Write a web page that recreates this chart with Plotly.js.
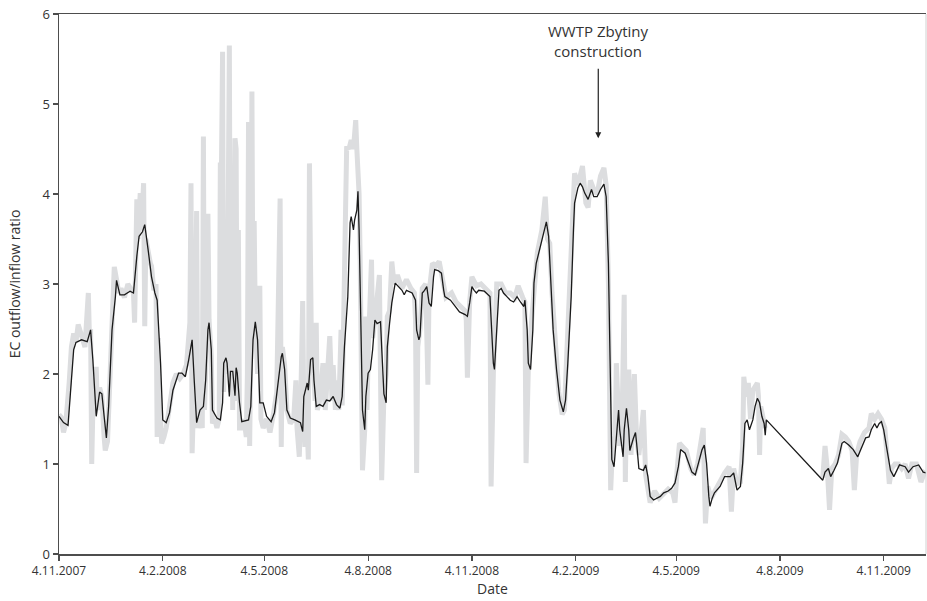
<!DOCTYPE html>
<html><head><meta charset="utf-8">
<script src="https://cdn.plot.ly/plotly-3.0.1.min.js"></script>
<style>html,body{margin:0;padding:0;background:#fff}#chart{width:927px;height:601px}</style>
</head><body><div id="chart"></div>
<script>
// Day offsets counted from 4.11.2007
const startDate = '2007-11-04';

// Moving average (black line)
const avgDay = [
0,4,8,10,13,15,20,25,28,30,
32,33,36,38,40,42,44,47,50,51,
54,58,63,66,69,71,74,76,79,82,
85,87,90,92,95,98,101,106,109,112,
115,118,120,122,125,128,130,132,133,135,
136,140,143,145,146,148,149,151,152,154,
156,157,158,160,162,168,170,172,174,176,
178,181,184,188,191,194,197,198,200,202,
205,209,214,216,217,220,221,223,225,226,
228,231,234,237,240,243,246,249,251,253,
256,258,259,261,262,264,265,266,268,269,
271,272,274,276,278,280,282,285,286,288,
290,291,293,295,298,301,304,306,308,313,
316,317,319,320,322,324,326,328,330,332,
333,336,339,341,342,347,351,355,360,362,
364,366,368,370,372,377,382,383,385,386,
388,390,392,394,397,400,403,406,409,412,
413,415,416,418,420,421,423,426,429,432,
434,436,438,441,444,447,449,451,454,456,
457,460,462,464,466,469,472,474,477,480,
483,485,487,488,489,490,492,496,497,500,
501,503,505,506,509,511,512,514,518,520,
522,524,527,530,533,536,540,543,546,549,
551,555,558,561,564,567,570,572,574,576,
577,579,581,586,590,595,598,601,604,606,
608,610,612,615,617,619,621,623,625,626,
627,677,679,682,684,687,690,694,696,700,
704,708,712,715,718,720,723,725,727,729,
731,734,737,740,743,745,750,753,757,762,
766,769];
const avgVal = [
1.53,1.46,1.43,1.75,2.27,2.35,2.38,2.36,2.49,2.16,
1.68,1.53,1.80,1.78,1.53,1.29,1.64,2.49,2.86,3.04,
2.88,2.88,2.92,2.90,3.31,3.53,3.58,3.66,3.38,3.08,
2.90,2.82,2.12,1.49,1.46,1.57,1.82,2.01,2.01,1.97,
2.16,2.38,1.90,1.46,1.60,1.64,1.93,2.49,2.57,2.27,
1.60,1.51,1.49,1.68,2.12,2.18,2.12,1.75,2.03,2.03,
1.76,2.07,2.01,1.68,1.47,1.49,1.64,2.38,2.58,2.38,
1.68,1.68,1.53,1.47,1.57,1.90,2.19,2.23,2.05,1.60,
1.51,1.49,1.46,1.36,1.75,1.90,1.82,2.16,2.18,1.93,
1.64,1.66,1.64,1.71,1.70,1.75,1.66,1.62,1.75,2.30,
2.86,3.68,3.75,3.60,3.71,3.82,4.03,3.60,2.49,1.60,
1.38,1.75,2.01,2.05,2.27,2.60,2.56,2.58,2.30,1.78,
1.68,2.30,2.56,2.79,3.01,2.97,2.93,2.88,2.93,2.90,
2.82,2.49,2.38,2.42,2.90,2.93,2.97,2.79,2.75,3.08,
3.16,3.15,3.12,2.93,2.86,2.82,2.75,2.69,2.66,2.64,
2.79,2.97,2.93,2.90,2.93,2.92,2.86,2.56,2.12,2.05,
2.56,2.93,2.95,2.90,2.86,2.82,2.80,2.86,2.80,2.75,
2.82,2.49,2.12,2.05,2.49,3.01,3.23,3.38,3.53,3.69,
3.53,3.01,2.49,2.05,1.71,1.58,1.71,2.12,2.86,3.60,
3.90,4.07,4.12,4.08,4.01,3.94,4.05,3.97,3.97,4.05,
4.11,3.97,3.23,2.49,1.75,1.05,0.97,1.60,1.38,1.08,
1.38,1.62,1.38,1.15,1.28,1.35,1.23,0.95,0.93,0.99,
0.86,0.64,0.60,0.62,0.64,0.68,0.70,0.73,0.79,0.97,
1.16,1.12,1.01,0.91,0.88,1.01,1.16,1.21,1.01,0.64,
0.53,0.62,0.68,0.75,0.86,0.86,0.90,0.71,0.75,1.01,
1.45,1.49,1.38,1.49,1.64,1.73,1.68,1.53,1.45,1.32,
1.49,0.82,0.91,0.95,0.86,0.93,1.01,1.23,1.25,1.21,
1.16,1.08,1.19,1.29,1.30,1.38,1.45,1.40,1.45,1.47,
1.38,1.16,0.93,0.86,0.93,0.99,0.97,0.91,0.97,0.99,
0.91,0.90];

// Daily values (grey line); null marks the data gap
const dailyDay = [
0,2,4,6,9,11,13,15,17,20,
23,26,27,28,29,30,31,33,34,36,
38,40,41,43,45,47,49,51,53,55,
58,61,64,66,67,68,69,70,72,73,
75,76,77,81,82,84,86,87,88,89,
91,93,95,98,101,104,107,110,113,116,
117,118,120,122,123,125,127,128,129,130,
132,133,135,136,138,140,142,143,144,145,
146,148,149,151,152,153,154,156,157,158,
159,160,162,164,166,167,168,169,170,171,
172,173,174,176,178,179,181,184,187,190,
193,196,197,198,200,202,205,208,210,211,
213,214,216,217,218,219,221,222,223,224,
225,227,228,229,231,234,236,240,242,243,
245,246,248,250,251,253,255,257,259,261,
263,264,266,267,268,269,271,272,273,274,
277,278,280,284,286,288,290,291,293,295,
297,300,304,308,312,315,316,317,318,320,
322,325,327,328,331,334,337,340,343,348,
352,356,360,361,362,364,366,370,374,378,
382,383,385,388,392,396,400,404,407,411,
413,414,416,419,421,424,428,431,433,435,
437,440,443,446,448,450,453,456,457,460,
464,467,469,471,474,477,480,483,485,487,
488,489,491,493,494,496,497,499,501,502,
503,505,507,510,512,514,518,520,524,528,
532,536,540,544,546,548,550,553,556,560,
563,566,569,571,573,575,578,582,586,590,
594,596,598,601,604,606,607,609,611,613,
615,617,619,620,621,622,624,626,650,677,
679,681,683,685,688,691,694,697,700,703,
705,707,710,714,718,720,723,726,729,732,
734,736,738,741,744,747,750,753,756,760,
764,767,769];
const dailyVal = [
1.55,1.52,1.35,1.45,1.9,2.3,2.45,2.35,2.55,2.4,
2.3,2.90,2.4,2.5,1.0,1.6,1.55,2.08,1.6,1.85,
1.75,1.3,1.15,1.25,1.8,2.6,3.19,3.05,2.9,2.95,
2.85,3.0,2.95,2.9,2.57,3.3,3.94,3.5,4.01,3.6,
4.12,2.53,3.5,3.23,3.2,2.93,3.0,1.30,2.4,1.8,
1.23,1.3,1.4,1.64,1.9,2.0,1.95,2.0,2.1,2.57,
4.12,1.12,2.0,3.81,1.4,1.5,1.4,4.64,1.6,2.0,
3.78,2.6,2.2,1.45,1.5,1.4,1.5,4.35,4.3,5.58,
1.8,3.6,2.0,5.65,1.8,3.6,1.6,4.62,4.5,1.7,
3.6,1.4,1.4,1.5,1.3,2.0,4.8,1.2,2.3,5.14,
2.4,3.7,2.6,2.0,2.98,1.5,1.4,1.5,1.35,1.55,
1.8,3.95,1.19,2.3,2.1,1.6,1.45,1.5,1.93,1.4,
1.08,1.5,2.81,1.6,1.19,1.8,1.05,4.34,3.45,2.0,
2.2,1.7,2.57,1.6,1.7,2.12,1.6,2.42,1.7,2.1,
1.6,1.93,1.6,2.49,1.65,3.12,4.53,4.5,4.6,4.5,
4.82,4.5,4.0,3.23,1.6,0.93,1.38,2.64,1.6,2.2,
3.27,2.4,2.6,3.10,0.82,1.75,2.0,2.64,2.7,3.25,
3.0,3.1,2.95,3.05,2.95,2.9,2.6,0.90,2.3,2.5,
2.95,3.0,1.88,2.9,3.23,3.2,3.25,3.05,2.85,2.9,
2.8,2.75,2.7,2.6,1.96,2.8,3.08,2.98,3.0,2.95,
2.9,0.75,2.0,3.0,3.0,2.9,2.9,2.85,2.98,2.85,
2.8,1.01,2.05,2.6,2.93,3.35,3.6,3.97,3.5,3.45,
2.9,2.3,1.8,1.55,1.6,2.2,3.0,3.9,4.23,4.1,
4.31,3.9,3.85,4.15,4.05,4.0,4.2,4.29,4.1,3.0,
2.0,0.71,1.3,1.26,2.12,1.5,1.2,1.4,2.88,0.8,
1.6,2.05,1.1,2.0,1.27,1.1,1.60,0.88,0.57,0.7,
0.62,0.67,0.72,0.68,0.57,0.95,1.23,1.19,1.15,0.95,
0.88,1.0,1.2,1.40,0.34,0.75,0.62,0.72,0.8,0.9,
0.97,0.47,0.95,0.78,0.8,1.2,1.97,1.75,1.9,1.5,
1.82,1.85,1.9,1.75,1.10,1.64,1.5,1.4,null,0.85,
1.2,0.95,0.49,0.95,1.0,1.1,1.33,1.3,1.25,1.15,
0.71,1.1,1.25,1.35,1.4,1.56,1.5,1.56,1.5,1.4,
1.1,0.78,0.95,1.0,1.0,0.95,1.0,0.84,1.0,1.0,
0.8,0.9,0.88];

const tickDates = ['2007-11-04','2008-02-04','2008-05-04','2008-08-04','2008-11-04','2009-02-04','2009-05-04','2009-08-04','2009-11-04'];
const tickLabels = ['4.11.2007','4.2.2008','4.5.2008','4.8.2008','4.11.2008','4.2.2009','4.5.2009','4.8.2009','4.11.2009'];

const annotationText = 'WWTP Zbytiny<br>construction';
const annotationDay = 478;
const annotationValue = 4.62;

const startMs = Date.parse(startDate + 'T00:00:00Z');
function toDate(d){ return new Date(startMs + d*86400000).toISOString().slice(0,10); }

const font = 'Open Sans, DejaVu Sans, sans-serif';
const traces = [
  {x: dailyDay.map(toDate), y: dailyVal, type:'scatter', mode:'lines', connectgaps:false,
   line:{color:'#dcdddf', width:5, shape:'linear'}, hoverinfo:'skip', name:'daily'},
  {x: avgDay.map(toDate), y: avgVal, type:'scatter', mode:'lines',
   line:{color:'#1a1a1a', width:1.3}, name:'average'}
];
const axCol = '#4d4d4d';
const layout = {
  width:927, height:601,
  margin:{l:59, r:1, t:14, b:47, pad:0},
  paper_bgcolor:'#fff', plot_bgcolor:'#fff',
  showlegend:false,
  font:{family:font, color:'#333', size:12},
  xaxis:{type:'date', range:['2007-11-04','2009-12-11 12:00'], automargin:false,
    tickvals:tickDates, ticktext:tickLabels, ticks:'outside', ticklen:5, tickwidth:1.2, tickcolor:axCol,
    showline:true, linecolor:axCol, linewidth:1.5, mirror:true, showgrid:false, zeroline:false,
    tickfont:{size:12, color:'#333'},
    title:{text:'Date', font:{size:14, color:'#333'}, standoff:6}},
  yaxis:{range:[0,6], dtick:1, tick0:0, automargin:false, ticks:'outside', ticklen:5, tickwidth:1.2, tickcolor:axCol,
    showline:true, linecolor:axCol, linewidth:1.5, showgrid:false, zeroline:false,
    tickfont:{size:13, color:'#333'},
    title:{text:'EC outflow/inflow ratio', font:{size:14, color:'#333'}, standoff:18}},
  shapes:[{type:'line', xref:'paper', yref:'paper', x0:1, x1:1, y0:0, y1:1, line:{color:'#d0d0d0', width:1}}],
  annotations:[{x:toDate(annotationDay), y:annotationValue, xref:'x', yref:'y', text:annotationText,
    showarrow:true, arrowhead:2, arrowsize:1, arrowwidth:1.2, arrowcolor:'#222', ax:0, ay:-97, startstandoff:6,
    font:{size:15, color:'#333', family:font}, align:'center'}]
};
Plotly.newPlot('chart', traces, layout, {staticPlot:true, displayModeBar:false});
</script></body></html>
